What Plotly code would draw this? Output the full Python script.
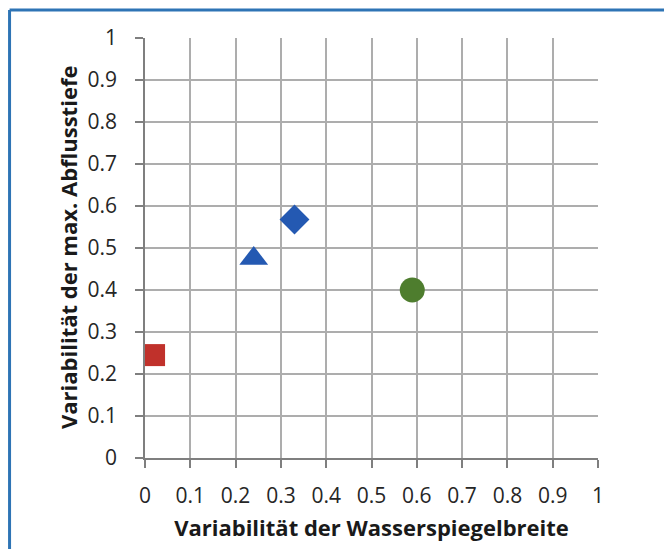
import plotly.graph_objects as go

# Data
series_names = ["Quadrat", "Dreieck", "Raute", "Kreis"]
x_values = [0.02, 0.24, 0.33, 0.59]
y_values = [0.245, 0.475, 0.568, 0.40]
symbols = ["square", "triangle-up", "diamond", "circle"]
colors = ["#C0312B", "#2459B2", "#2459B2", "#4E7D2E"]
sizes = [22, 25, 23, 25]
tick_vals = [0, 0.1, 0.2, 0.3, 0.4, 0.5, 0.6, 0.7, 0.8, 0.9, 1]
tick_text = ["0", "0.1", "0.2", "0.3", "0.4", "0.5", "0.6", "0.7", "0.8", "0.9", "1"]
x_title = "Variabilität der Wasserspiegelbreite"
y_title = "Variabilität der max. Abflusstiefe"

fig = go.Figure()
for name, xv, yv, sym, col, sz in zip(series_names, x_values, y_values, symbols, colors, sizes):
    fig.add_trace(go.Scatter(
        x=[xv], y=[yv], mode="markers", name=name,
        marker=dict(symbol=sym, color=col, size=sz, line=dict(width=0)),
        showlegend=False,
    ))

font_family = "'Open Sans', Lato, sans-serif"
title_font = dict(family=font_family, size=22, color="#1a1a1a", weight="bold")
axis_common = dict(
    range=[0, 1], tickvals=tick_vals, ticktext=tick_text,
    showgrid=True, gridcolor="#ADADAD", gridwidth=1.5,
    zeroline=False, showline=True, linecolor="#7F7F7F", linewidth=1.5,
    ticks="outside", ticklen=8, tickcolor="#7F7F7F", tickwidth=1.5,
    tickfont=dict(family=font_family, size=21, color="#262626"),
    automargin=False,
)

# the page body adds an 8px offset, so the figure is 8px smaller and margins shifted
fig.update_layout(
    width=664, height=541,
    margin=dict(l=137, r=74, t=30, b=91),
    paper_bgcolor="white", plot_bgcolor="white",
    xaxis=dict(**axis_common, title=dict(text=x_title, font=title_font, standoff=13)),
    yaxis=dict(**axis_common),
)
fig.update_xaxes(ticklabelstandoff=10)
fig.update_yaxes(ticklabelstandoff=14)

# y-axis title as rotated annotation
fig.add_annotation(text=y_title, xref="paper", yref="paper", x=0, y=0.5,
                   xanchor="center", yanchor="middle", xshift=-77, textangle=-90,
                   showarrow=False, font=title_font)

# decorative blue frame (top and left edges)
frame_color = "#2E74B5"
fig.add_shape(type="line", xref="paper", yref="paper", x0=-0.299, x1=1.2, y0=1.0667, y1=1.0667,
              line=dict(color=frame_color, width=3))
fig.add_shape(type="line", xref="paper", yref="paper", x0=-0.299, x1=-0.299, y0=1.0667, y1=-0.3,
              line=dict(color=frame_color, width=3))

fig.write_html("out.html")
